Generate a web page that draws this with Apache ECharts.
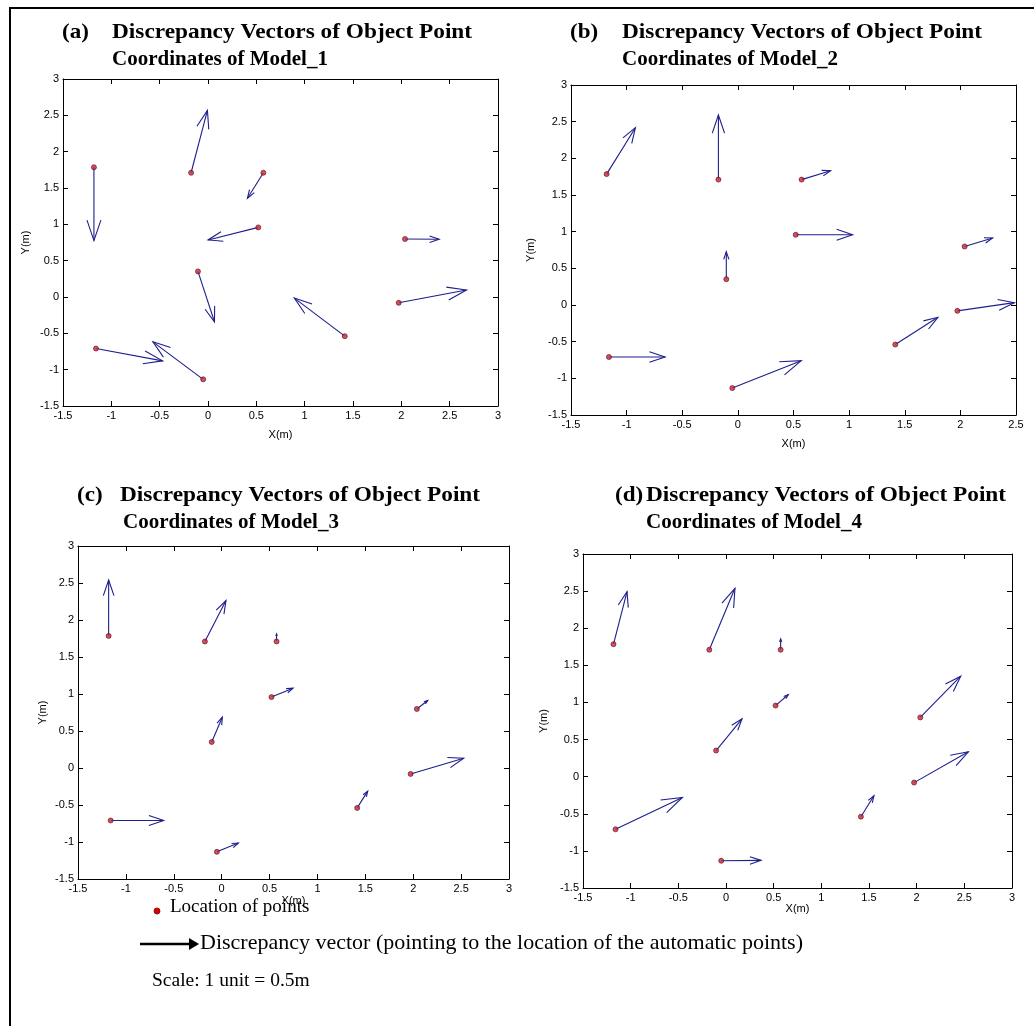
<!DOCTYPE html>
<html>
<head>
<meta charset="utf-8">
<script src="https://cdn.jsdelivr.net/npm/echarts/dist/echarts.min.js"></script>
<style>
  html, body { margin: 0; padding: 0; background: #fff; }
  #chart { width: 1034px; height: 1026px; }
</style>
</head>
<body>
<div id="chart"></div>
<script>
// Surveyed object point locations (m)
const pointX = [-1.18, -0.175, 0.573, 0.52, 2.038, -0.104, 1.973, 1.415, -1.159, -0.05];
const pointY = [1.785, 1.71, 1.71, 0.958, 0.798, 0.352, -0.08, -0.539, -0.709, -1.133];

// Automatic point locations (vector tips) for each model, same point order
const model1EndX = [-1.18, -0.006, 0.408, 0.001, 2.391, 0.067, 2.674, 0.893, -0.47, -0.57];
const model1EndY = [0.776, 2.568, 1.359, 0.785, 0.794, -0.341, 0.096, -0.015, -0.879, -0.617];

const model2EndX = [-0.921, -0.175, 0.833, 1.031, 2.29, -0.104, 2.485, 1.798, -0.654, 0.569];
const model2EndY = [2.418, 2.591, 1.832, 0.958, 0.914, 0.727, 0.032, -0.168, -0.709, -0.759];

const model3EndX = [-1.18, 0.045, 0.573, 0.745, 2.151, 0.007, 2.527, 1.525, -0.605, 0.174];
const model3EndY = [2.541, 2.262, 1.812, 1.078, 0.912, 0.687, 0.133, -0.312, -0.709, -1.014];

const model4EndX = [-1.038, 0.094, 0.573, 0.654, 2.462, 0.168, 2.542, 1.552, -0.458, 0.368];
const model4EndY = [2.493, 2.538, 1.856, 1.107, 1.354, 0.779, 0.335, -0.257, -0.28, -1.128];

// Axis ranges
const xMinAll = -1.5;
const xMaxByModel = [3, 2.5, 3, 3];
const yMin = -1.5;
const yMax = 3;
const tickStep = 0.5;

// Panel captions
const panelLetters = ['(a)', '(b)', '(c)', '(d)'];
const captionLine1 = 'Discrepancy Vectors of Object Point';
const captionLine2 = ['Coordinates of Model_1', 'Coordinates of Model_2', 'Coordinates of Model_3', 'Coordinates of Model_4'];

const endXs = [model1EndX, model2EndX, model3EndX, model4EndX];
const endYs = [model1EndY, model2EndY, model3EndY, model4EndY];

// Layout of the four plot boxes
const layout = [
  { left: 63,  top: 79,  width: 435, height: 327, xGap: 23, yGap: 32, letterX: 62,  capX: 112, cap2X: 112, capY: 32 },
  { left: 571, top: 85,  width: 445, height: 330, xGap: 23, yGap: 35, letterX: 570, capX: 622, cap2X: 622, capY: 32 },
  { left: 78,  top: 546, width: 431, height: 333, xGap: 16, yGap: 30, letterX: 77,  capX: 120, cap2X: 123, capY: 495 },
  { left: 583, top: 554, width: 429, height: 334, xGap: 15, yGap: 34, letterX: 615, capX: 646, cap2X: 646, capY: 495 }
];

const tickFont = 'Liberation Sans, Arial, sans-serif';
const serif = 'Liberation Serif, Times New Roman, serif';
const vecColor = '#1e1e8c';

const grids = [], xAxes = [], yAxes = [], series = [], graphics = [];

layout.forEach((L, i) => {
  grids.push({ left: L.left, top: L.top, width: L.width, height: L.height, show: false });

  const axisLine = { show: true, onZero: false, lineStyle: { color: '#000', width: 1 } };
  const tick = { show: true, inside: true, length: 5, lineStyle: { color: '#000', width: 1 } };
  const label = { show: true, color: '#000', fontFamily: tickFont, fontSize: 11 };
  const nameStyle = { color: '#000', fontFamily: tickFont, fontSize: 11 };

  xAxes.push({
    gridIndex: i, type: 'value', position: 'bottom',
    min: xMinAll, max: xMaxByModel[i], interval: tickStep,
    axisLine, axisTick: tick, splitLine: { show: false },
    axisLabel: Object.assign({ margin: 4 }, label),
    name: 'X(m)', nameLocation: 'middle', nameGap: L.xGap, nameTextStyle: nameStyle
  });
  xAxes.push({
    gridIndex: i, type: 'value', position: 'top',
    min: xMinAll, max: xMaxByModel[i], interval: tickStep,
    axisLine, axisTick: tick, splitLine: { show: false }, axisLabel: { show: false }
  });
  yAxes.push({
    gridIndex: i, type: 'value', position: 'left',
    min: yMin, max: yMax, interval: tickStep,
    axisLine, axisTick: tick, splitLine: { show: false },
    axisLabel: Object.assign({ margin: 4 }, label),
    name: 'Y(m)', nameLocation: 'middle', nameGap: L.yGap, nameRotate: 90, nameTextStyle: nameStyle
  });
  yAxes.push({
    gridIndex: i, type: 'value', position: 'right',
    min: yMin, max: yMax, interval: tickStep,
    axisLine, axisTick: tick, splitLine: { show: false }, axisLabel: { show: false }
  });

  const vectors = pointX.map((x, k) => [x, pointY[k], endXs[i][k], endYs[i][k]]);

  // Discrepancy vectors with open quiver-style heads
  series.push({
    type: 'custom',
    xAxisIndex: 2 * i, yAxisIndex: 2 * i,
    data: vectors,
    z: 2,
    renderItem: function (params, api) {
      const p0 = api.coord([api.value(0), api.value(1)]);
      const p1 = api.coord([api.value(2), api.value(3)]);
      const dx = p1[0] - p0[0], dy = p1[1] - p0[1];
      const len = Math.sqrt(dx * dx + dy * dy) || 1;
      const ux = dx / len, uy = dy / len;
      const back = 0.28 * len, side = 0.095 * len;
      const bx = p1[0] - ux * back, by = p1[1] - uy * back;
      const b1 = [bx - uy * side, by + ux * side];
      const b2 = [bx + uy * side, by - ux * side];
      return {
        type: 'group',
        children: [
          { type: 'line', shape: { x1: p0[0], y1: p0[1], x2: p1[0], y2: p1[1] },
            style: { stroke: vecColor, lineWidth: 1.1 } },
          { type: 'polyline', shape: { points: [b1, p1, b2] },
            style: { stroke: vecColor, lineWidth: 1.1, fill: null } }
        ]
      };
    }
  });

  // Object point markers
  series.push({
    type: 'scatter',
    xAxisIndex: 2 * i, yAxisIndex: 2 * i,
    data: pointX.map((x, k) => [x, pointY[k]]),
    symbol: 'circle', symbolSize: 5, z: 3,
    itemStyle: { color: '#c8283c', borderColor: '#5a0a18', borderWidth: 0.8 }
  });

  // Panel caption (two lines, tall condensed bold serif)
  const capStyle = { fill: '#000', font: 'bold 22px ' + serif };
  graphics.push({ type: 'text', x: L.letterX, y: L.capY - 11, scaleX: 1.05,
    style: Object.assign({ text: panelLetters[i] }, capStyle) });
  graphics.push({ type: 'text', x: L.capX, y: L.capY - 11, scaleX: 1.06,
    style: Object.assign({ text: captionLine1 }, capStyle) });
  graphics.push({ type: 'text', x: L.cap2X, y: L.capY + 16, scaleX: 0.955,
    style: Object.assign({ text: captionLine2[i] }, capStyle) });
});

// Figure frame
graphics.push({
  type: 'rect', shape: { x: 10, y: 8, width: 1100, height: 1100 },
  style: { stroke: '#000', lineWidth: 2, fill: null }, z: 10
});

// Key below the panels
graphics.push({ type: 'circle', shape: { cx: 157, cy: 911, r: 3 }, style: { fill: '#e00000', stroke: '#700', lineWidth: 0.8 } });
graphics.push({ type: 'text', x: 170, y: 898, style: { text: 'Location of points', font: '19px ' + serif, fill: '#000' } });
graphics.push({ type: 'line', shape: { x1: 140, y1: 944, x2: 191, y2: 944 }, style: { stroke: '#000', lineWidth: 2.5 } });
graphics.push({ type: 'polygon', shape: { points: [[189, 938], [199, 944], [189, 950]] }, style: { fill: '#000' } });
graphics.push({ type: 'text', x: 200, y: 932, style: { text: 'Discrepancy vector (pointing to the location of the automatic points)', font: '22px ' + serif, fill: '#000' } });
graphics.push({ type: 'text', x: 152, y: 971, style: { text: 'Scale: 1 unit = 0.5m', font: '19.5px ' + serif, fill: '#000' } });

const chart = echarts.init(document.getElementById('chart'), null, { renderer: 'canvas' });
chart.setOption({
  animation: false,
  backgroundColor: '#fff',
  grid: grids,
  xAxis: xAxes,
  yAxis: yAxes,
  series: series,
  graphic: graphics
});
</script>
</body>
</html>
